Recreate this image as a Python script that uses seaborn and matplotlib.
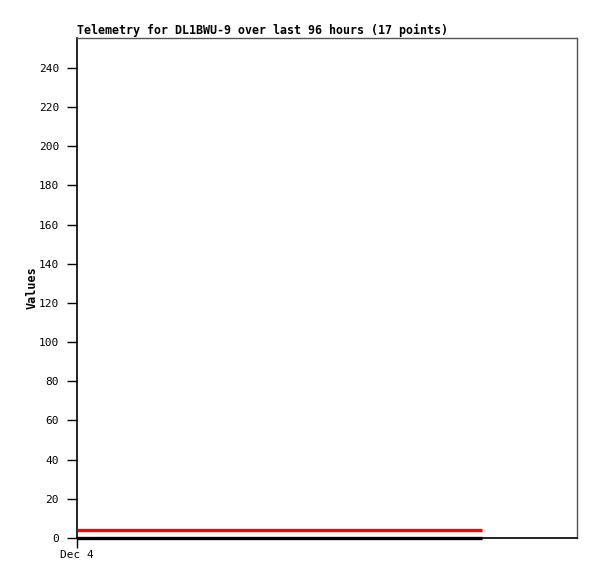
import matplotlib
matplotlib.use("Agg")
import matplotlib.pyplot as plt
import seaborn as sns
import pandas as pd

hours = [0.0, 4.86, 9.72, 14.58, 19.44, 24.3, 29.16, 34.02, 38.88, 43.74,
         48.6, 53.46, 58.32, 63.18, 68.04, 72.9, 77.76]
red_vals = [4, 4, 4, 4, 4, 4, 4, 4, 4, 4, 4, 4, 4, 4, 4, 4, 4]
black_vals = [0, 0, 0, 0, 0, 0, 0, 0, 0, 0, 0, 0, 0, 0, 0, 0, 0]
y_ticks = [0, 20, 40, 60, 80, 100, 120, 140, 160, 180, 200, 220, 240]
x_tick_labels = ["Dec 4"]
title = "Telemetry for DL1BWU-9 over last 96 hours (17 points)"

sns.set_theme(style="white")
plt.rcParams['font.family'] = ['DejaVu Sans Mono']
plt.rcParams['text.color'] = 'black'
plt.rcParams['axes.labelcolor'] = 'black'
plt.rcParams['xtick.color'] = 'black'
plt.rcParams['ytick.color'] = 'black'

df = pd.DataFrame({"h": hours, "red": red_vals, "black": black_vals})

fig = plt.figure(figsize=(5.97, 5.79), dpi=100)
ax = fig.add_axes([77/597, 41/579, 500/597, 500/579])

for s in ["left", "bottom"]:
    ax.spines[s].set_color("black")
    ax.spines[s].set_linewidth(1.2)
for s in ["top", "right"]:
    ax.spines[s].set_color("#555555")
    ax.spines[s].set_linewidth(1)

sns.lineplot(data=df, x="h", y="black", color="black", linewidth=2.4, ax=ax)
sns.lineplot(data=df, x="h", y="red", color="#ff0000", linewidth=2.4, ax=ax)
for ln in ax.get_lines():
    ln.set_clip_on(False)
    ln.set_zorder(5)
    ln.set_solid_capstyle("butt")

ax.set_xlim(0, 96)
ax.set_ylim(0, 255.3)
ax.set_yticks(y_ticks)
ax.set_yticklabels([str(v) for v in y_ticks], fontsize=8)
ax.set_xticks([0])
ax.set_xticklabels(x_tick_labels, fontsize=8)
ax.tick_params(axis="y", direction="out", length=7, width=1, left=True, pad=6)
ax.tick_params(axis="x", direction="out", length=7, width=1, bottom=True, pad=2)
ax.set_xlabel("")
ax.set_ylabel("Values", fontsize=8.5, fontweight="bold")
ax.yaxis.set_label_coords(-0.076, 0.5)
ax.set_title(title, loc="left", fontsize=8.4, fontweight="bold", pad=3)

fig.savefig("out.png", dpi=100, facecolor="white")
